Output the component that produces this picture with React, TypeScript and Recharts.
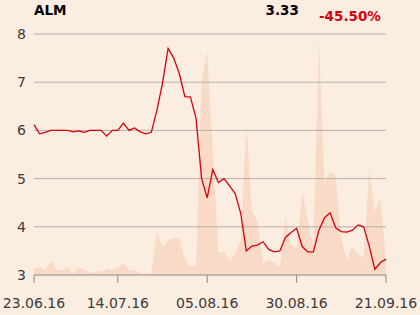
import { ComposedChart, Line, Area, XAxis, YAxis, ReferenceLine } from 'recharts'

const dates = [
  '23.06.16', '24.06.16', '27.06.16', '28.06.16', '29.06.16', '30.06.16', '01.07.16', '04.07.16',
  '05.07.16', '06.07.16', '07.07.16', '08.07.16', '11.07.16', '12.07.16', '13.07.16', '14.07.16',
  '15.07.16', '18.07.16', '19.07.16', '20.07.16', '21.07.16', '22.07.16', '25.07.16', '26.07.16',
  '27.07.16', '28.07.16', '29.07.16', '01.08.16', '02.08.16', '03.08.16', '04.08.16', '05.08.16',
  '08.08.16', '09.08.16', '10.08.16', '11.08.16', '12.08.16', '16.08.16', '17.08.16', '18.08.16',
  '19.08.16', '22.08.16', '23.08.16', '24.08.16', '25.08.16', '26.08.16', '29.08.16', '30.08.16',
  '31.08.16', '01.09.16', '02.09.16', '05.09.16', '06.09.16', '07.09.16', '08.09.16', '09.09.16',
  '12.09.16', '13.09.16', '14.09.16', '15.09.16', '16.09.16', '19.09.16', '20.09.16', '21.09.16',
]

const prices = [
  6.12, 5.93, 5.96, 6.0, 6.0, 6.0, 6.0, 5.97, 5.99, 5.96, 6.0, 6.0, 6.0, 5.88, 6.0, 6.0,
  6.15, 6.0, 6.05, 5.97, 5.93, 5.96, 6.42, 6.98, 7.7, 7.5, 7.18, 6.7, 6.69, 6.25, 5.0, 4.6,
  5.19, 4.92, 5.0, 4.85, 4.69, 4.28, 3.5, 3.6, 3.62, 3.69, 3.53, 3.48, 3.5, 3.78, 3.88, 3.97,
  3.59, 3.48, 3.48, 3.93, 4.19, 4.29, 3.98, 3.9, 3.89, 3.93, 4.04, 4.0, 3.6, 3.12, 3.26, 3.33,
]

// volume in thousands of shares
const volumes = [
  6.7, 7.7, 5, 14, 5.7, 4, 8.3, 1, 7.7, 5.7, 1.7, 4, 3, 6.3, 5, 7.3,
  11.7, 5, 5, 1.7, 1, 1.7, 43, 27.7, 35, 36.7, 37.7, 15.7, 8.3, 9, 195, 223,
  123, 21.7, 23.3, 14.3, 21, 35, 153, 65, 53, 11.7, 15.7, 12.3, 8.3, 56.7, 30, 26.7,
  83.3, 55, 28.3, 235, 91.7, 103.3, 99.3, 35, 15, 29, 21, 16.7, 105, 63.3, 75.7, 15,
]

const priceTicks = [3, 4, 5, 6, 7, 8]
const dateTickIdx = [0, 15, 31, 47, 63]

const ticker = 'ALM'
const lastPrice = '3.33'
const change = '-45.50%'

const data = dates.map((d, i) => ({ i, date: d, price: prices[i], vol: volumes[i] }))

const font = 'DejaVu Sans, sans-serif'

export default function App() {
  return (
    <div style={{ position: 'relative', width: 420, height: 315, background: '#fcede1', fontFamily: font }}>
      <style>{'body{margin:0}'}</style>
      <ComposedChart width={420} height={315} data={data} margin={{ top: 34, right: 34, bottom: 0, left: 0 }}>
        <XAxis
          dataKey="i"
          type="number"
          domain={[0, 63]}
          ticks={dateTickIdx}
          tickFormatter={(v: number) => dates[v]}
          height={40}
          tickSize={8}
          tickMargin={15}
          stroke="#8a8a8a"
          tick={{ fontSize: 14, fill: '#3a3a3a', fontFamily: font }}
        />
        <YAxis
          domain={[3, 8]}
          ticks={priceTicks}
          width={34}
          axisLine={false}
          tickLine={false}
          tick={{ fontSize: 14, fill: '#3a3a3a', fontFamily: font }}
        />
        <YAxis yAxisId="vol" hide domain={[0, 241]} />
        <Area
          yAxisId="vol"
          dataKey="vol"
          type="linear"
          stroke="none"
          fill="#f8dac6"
          fillOpacity={1}
          isAnimationActive={false}
        />
        {priceTicks.slice(1).map((t) => (
          <ReferenceLine key={t} y={t} stroke="#b5b0ab" strokeWidth={1} />
        ))}
        <Line
          dataKey="price"
          type="linear"
          stroke="#d7000f"
          strokeWidth={1.3}
          dot={false}
          isAnimationActive={false}
        />
      </ComposedChart>
      <svg width={420} height={30} style={{ position: 'absolute', left: 0, top: 0, pointerEvents: 'none' }}>
        <text x={34} y={15} fontSize={13.5} fontWeight="bold" fill="#000" fontFamily={font}>{ticker}</text>
        <text x={265.5} y={14.5} fontSize={13.5} fontWeight="bold" fill="#000" fontFamily={font}>{lastPrice}</text>
        <text x={319} y={21} fontSize={13.5} fontWeight="bold" fill="#d7000f" fontFamily={font}>{change}</text>
      </svg>
    </div>
  )
}
